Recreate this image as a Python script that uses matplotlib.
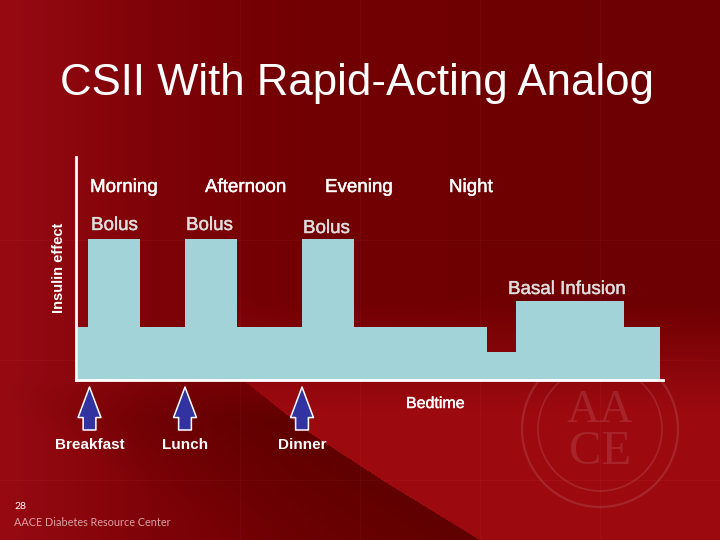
import numpy as np
import matplotlib
matplotlib.use('Agg')
import matplotlib.pyplot as plt
import matplotlib.patheffects as pe
from matplotlib.patches import Circle

# ---------------- data ----------------
step_edges = [2, 12, 64, 109, 161, 226, 278, 411, 440, 548, 584]
step_levels = [53, 141, 53, 141, 53, 141, 53, 28, 79, 53]

periods = ['Morning', 'Afternoon', 'Evening', 'Night']
period_x = [14, 129, 249, 373]

bolus_labels = ['Bolus', 'Bolus', 'Bolus']
bolus_x = [15, 110, 227]
bolus_y = [150, 150, 147]

meals = ['Breakfast', 'Lunch', 'Dinner']
meal_x = [13.5, 109, 226]

title = 'CSII With Rapid-Acting Analog'
ylabel = 'Insulin effect'
basal_label = 'Basal Infusion'
bedtime_label = 'Bedtime'
page_no = '28'
footer = 'AACE Diabetes Resource Center'

W, H = 720, 540
fig = plt.figure(figsize=(7.2, 5.4), dpi=100)

# ---------------- background ----------------
xs = np.arange(W)[None, :].astype(float)
ys = np.arange(H)[:, None].astype(float)
X = np.broadcast_to(xs, (H, W))
Y = np.broadcast_to(ys, (H, W))
gx = [0, 150, 300, 720]
R = np.interp(X, gx, [152, 126, 114, 108])
G = np.interp(X, gx, [10, 3, 0, 0])
B = np.interp(X, gx, [18, 8, 3, 2])
img = np.stack([R, G, B], axis=-1)

xb = np.interp(Y, [300, 380, 433, 483, 540], [200, 243, 310, 387, 480])
bright_w = np.clip((Y - 300) / 110.0, 0, 1) * (X > xb)
bright = np.array([156, 10, 16], float)
img = img * (1 - bright_w[..., None]) + bright * bright_w[..., None]
dark_w = ((X <= xb) & (Y > 380)) * np.clip(1 - (xb - X) / 260.0, 0, 1) * np.clip((Y - 380) / 40.0, 0, 1)
dark = np.array([96, 0, 0], float)
img = img * (1 - dark_w[..., None]) + dark * dark_w[..., None]
# faint template grid
for gxl in [240, 360, 480, 600]:
    img[:, gxl, :] += 6
for gyl in [240, 360, 480]:
    img[gyl, :, :] += 6
img = np.clip(img, 0, 255) / 255.0

ax_bg = fig.add_axes([0, 0, 1, 1], zorder=-5)
ax_bg.imshow(img, extent=(0, W, H, 0), aspect='auto', interpolation='bilinear')
ax_bg.set_xlim(0, W)
ax_bg.set_ylim(H, 0)
ax_bg.axis('off')

# faint logo watermark
logo_c = (1, 1, 1, 0.11)
ax_bg.add_patch(Circle((600, 429), 78, fill=False, ec=logo_c, lw=1.6))
ax_bg.add_patch(Circle((600, 429), 62, fill=False, ec=logo_c, lw=1.2))
ax_bg.text(600, 432, 'AA', ha='center', va='bottom', fontsize=33,
           family='Liberation Serif', color=logo_c)
ax_bg.text(600, 430, 'CE', ha='center', va='top', fontsize=35,
           family='Liberation Serif', color=logo_c)

# ---------------- main chart ----------------
ax = fig.add_axes([76 / W, 160 / H, 587 / W, 223 / H], zorder=1)
ax.set_facecolor('none')
ax.set_xlim(0, 587)
ax.set_ylim(0, 223)
ax.fill_between(step_edges, step_levels + [step_levels[-1]], 0, step='post',
                color='#a1d3d8', lw=0, zorder=2)
for s in ['top', 'right']:
    ax.spines[s].set_visible(False)
for s in ['left', 'bottom']:
    ax.spines[s].set_color('white')
    ax.spines[s].set_linewidth(2.0)
    ax.spines[s].set_zorder(3)
ax.set_xticks([])
ax.set_yticks([])

font = 'Liberation Sans'


def thick(c):
    return [pe.withStroke(linewidth=0.3, foreground=c)]


for lab, x in zip(periods, period_x):
    ax.text(x, 188, lab, ha='left', va='baseline', fontsize=13.5, color='white',
            family=font, clip_on=False, path_effects=thick('white'))
for lab, x, y in zip(bolus_labels, bolus_x, bolus_y):
    ax.text(x, y, lab, ha='left', va='baseline', fontsize=13.5, color='#dedede',
            family=font, clip_on=False, path_effects=thick('#dedede'))
ax.text(432, 86, basal_label, ha='left', va='baseline', fontsize=13.5,
        color='#dedede', family=font, clip_on=False, path_effects=thick('#dedede'))
ax.text(330, -28, bedtime_label, ha='left', va='baseline', fontsize=11.5,
        color='white', family=font, clip_on=False, path_effects=thick('white'))

for lab, x in zip(meals, meal_x):
    ax.annotate('', xy=(x, -7), xytext=(x, -50), xycoords='data',
                annotation_clip=False,
                arrowprops=dict(arrowstyle='simple,head_length=2.2,head_width=1.65,tail_width=0.92',
                                mutation_scale=10, fc='#3232a0', ec='white', lw=1.1,
                                shrinkA=0, shrinkB=0))
    ax.text(x, -69, lab, ha='center', va='baseline', fontsize=11, fontweight='bold',
            color='white', family=font, clip_on=False)

# ---------------- texts ----------------
fig.text(357 / W, 1 - 95 / H, title, ha='center', va='baseline', fontsize=31.5,
         color='white', family=font)
fig.text(59 / W, 1 - 268 / H, ylabel, ha='center', va='center', rotation=90,
         fontsize=10.5, fontweight='bold', color='white', family=font)
fig.text(14 / W, 1 - 509 / H, page_no, ha='left', va='baseline', fontsize=7.5,
         color='white', family='Lato')
fig.text(14 / W, 1 - 526 / H, footer, ha='left', va='baseline', fontsize=7.8,
         color='#dca0a8', family='Lato')

fig.savefig('out.png', dpi=100)
